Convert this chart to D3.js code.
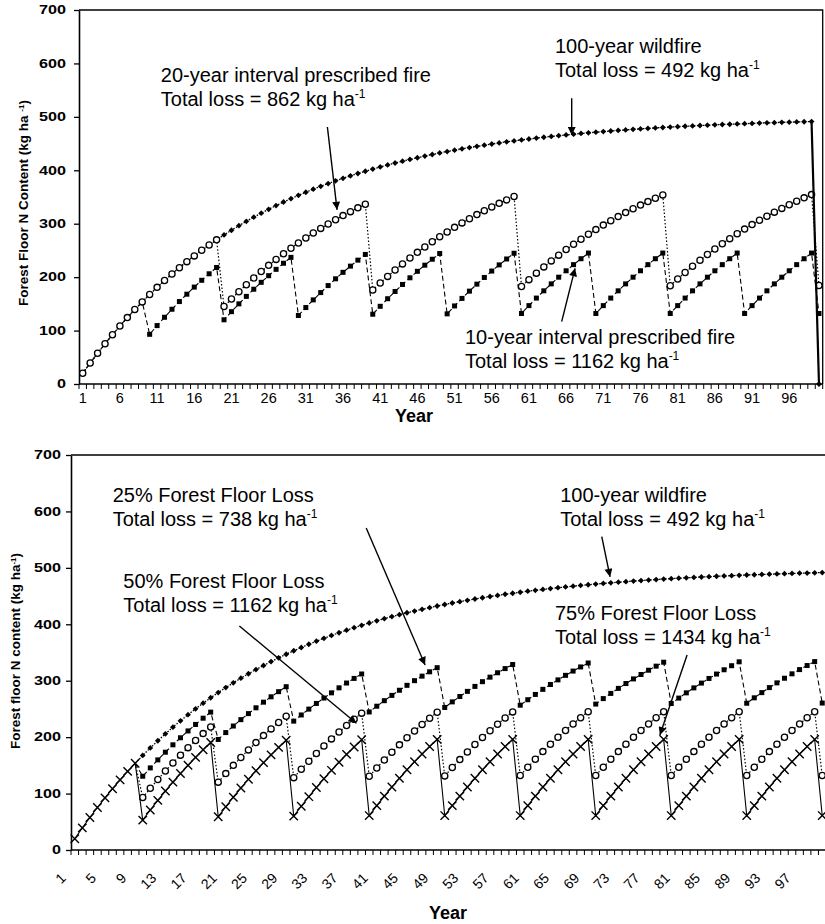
<!DOCTYPE html>
<html lang="en">
<head>
<meta charset="UTF-8">
<title>Forest floor N content under fire regimes</title>
<script src="https://cdn.jsdelivr.net/npm/d3@7"></script>
<style>
  body { margin: 0; background: #fff; }
  svg { display: block; font-family: "Liberation Sans", Arial, sans-serif; }
</style>
</head>
<body>
<script>

// ---- data (kg N / ha) ----
var years = d3.range(1, 101);

// 100-year wildfire, regrowth from bare ground (year 100 value for the lower panel)
var wildfire = [
  20.0, 39.2, 57.6, 75.3, 92.3, 108.6, 124.3, 139.3, 153.7, 167.6,
  180.9, 193.6, 205.9, 217.7, 229.0, 239.8, 250.2, 260.2, 269.8, 279.0,
  287.8, 296.3, 304.5, 312.3, 319.8, 327.0, 333.9, 340.6, 346.9, 353.1,
  358.9, 364.6, 370.0, 375.2, 380.2, 385.0, 389.6, 394.0, 398.2, 402.3,
  406.2, 410.0, 413.6, 417.0, 420.4, 423.5, 426.6, 429.5, 432.4, 435.1,
  437.7, 440.1, 442.5, 444.8, 447.0, 449.2, 451.2, 453.2, 455.0, 456.8,
  458.6, 460.2, 461.8, 463.3, 464.8, 466.2, 467.6, 468.9, 470.1, 471.3,
  472.4, 473.5, 474.6, 475.6, 476.6, 477.5, 478.4, 479.3, 480.1, 480.9,
  481.7, 482.4, 483.1, 483.8, 484.4, 485.1, 485.7, 486.2, 486.8, 487.3,
  487.8, 488.3, 488.8, 489.2, 489.7, 490.1, 490.5, 490.8, 491.2, 491.6
];
// upper panel: the wildfire burns everything in year 100
var wildfireYear100 = 0;

// 20-year interval prescribed fire
var twentyYear = [
  20.0, 39.2, 57.6, 75.3, 92.3, 108.6, 124.3, 139.3, 153.7, 167.6,
  180.9, 193.6, 205.9, 217.7, 229.0, 239.8, 250.2, 260.2, 269.8, 145.0,
  159.2, 172.8, 185.9, 198.5, 210.5, 222.1, 233.2, 243.9, 254.1, 264.0,
  273.4, 282.5, 291.2, 299.5, 307.5, 315.2, 322.6, 329.7, 336.5, 176.0,
  189.0, 201.4, 213.3, 224.8, 235.8, 246.4, 256.5, 266.3, 275.6, 284.6,
  293.2, 301.5, 309.4, 317.1, 324.4, 331.4, 338.1, 344.6, 350.8, 182.6,
  195.3, 207.5, 219.2, 230.4, 241.2, 251.6, 261.5, 271.0, 280.2, 289.0,
  297.4, 305.5, 313.3, 320.8, 327.9, 334.8, 341.4, 347.8, 353.9, 184.0,
  196.6, 208.8, 220.4, 231.6, 242.3, 252.6, 262.5, 272.0, 281.2, 289.9,
  298.3, 306.4, 314.1, 321.6, 328.7, 335.6, 342.1, 348.4, 354.5, 184.3
];

// 10-year interval prescribed fire = 50% forest floor loss
var tenYear = [
  20.0, 39.2, 57.6, 75.3, 92.3, 108.6, 124.3, 139.3, 153.7, 93.0,
  109.3, 124.9, 139.9, 154.3, 168.1, 181.4, 194.1, 206.3, 218.1, 120.2,
  135.4, 150.0, 164.0, 177.4, 190.3, 202.7, 214.6, 226.0, 237.0, 128.2,
  143.1, 157.4, 171.1, 184.2, 196.9, 209.0, 220.6, 231.8, 242.5, 130.6,
  145.4, 159.6, 173.2, 186.3, 198.8, 210.9, 222.4, 233.5, 244.2, 131.3,
  146.1, 160.2, 173.8, 186.9, 199.4, 211.4, 222.9, 234.0, 244.7, 132.0,
  146.7, 160.8, 174.4, 187.4, 199.9, 211.9, 223.4, 234.5, 245.1, 132.0,
  146.7, 160.8, 174.4, 187.4, 199.9, 211.9, 223.4, 234.5, 245.1, 132.0,
  146.7, 160.8, 174.4, 187.4, 199.9, 211.9, 223.4, 234.5, 245.1, 132.0,
  146.7, 160.8, 174.4, 187.4, 199.9, 211.9, 223.4, 234.5, 245.1, 132.0
];

// 25% forest floor loss every 10 years
var loss25 = [
  20.0, 39.2, 57.6, 75.3, 92.3, 108.6, 124.3, 139.3, 153.7, 130.7,
  145.5, 159.7, 173.3, 186.4, 198.9, 211.0, 222.5, 233.6, 244.3, 195.9,
  208.1, 219.7, 231.0, 241.7, 252.0, 262.0, 271.5, 280.6, 289.4, 228.4,
  239.3, 249.7, 259.7, 269.3, 278.5, 287.4, 295.9, 304.1, 311.9, 244.6,
  254.8, 264.6, 274.0, 283.1, 291.8, 300.1, 308.1, 315.8, 323.1, 252.6,
  262.5, 272.0, 281.1, 289.9, 298.3, 306.3, 314.1, 321.5, 328.7, 256.6,
  266.3, 275.7, 284.7, 293.3, 301.5, 309.5, 317.1, 324.4, 331.4, 258.6,
  268.3, 277.5, 286.4, 295.0, 303.2, 311.0, 318.6, 325.8, 332.8, 259.6,
  269.2, 278.5, 287.3, 295.8, 304.0, 311.8, 319.4, 326.6, 333.5, 260.1,
  269.7, 278.9, 287.8, 296.2, 304.4, 312.2, 319.7, 326.9, 333.9, 260.4
];

// 75% forest floor loss every 10 years
var loss75 = [
  20.0, 39.2, 57.6, 75.3, 92.3, 108.6, 124.3, 139.3, 153.7, 53.0,
  70.9, 88.0, 104.5, 120.3, 135.5, 150.1, 164.1, 177.6, 190.5, 59.0,
  76.6, 93.6, 109.8, 125.4, 140.4, 154.8, 168.6, 181.9, 194.6, 60.0,
  77.6, 94.5, 110.7, 126.3, 141.2, 155.6, 169.4, 182.6, 195.3, 61.0,
  78.6, 95.4, 111.6, 127.1, 142.1, 156.4, 170.1, 183.3, 196.0, 61.0,
  78.6, 95.4, 111.6, 127.1, 142.1, 156.4, 170.1, 183.3, 196.0, 61.0,
  78.6, 95.4, 111.6, 127.1, 142.1, 156.4, 170.1, 183.3, 196.0, 61.0,
  78.6, 95.4, 111.6, 127.1, 142.1, 156.4, 170.1, 183.3, 196.0, 61.0,
  78.6, 95.4, 111.6, 127.1, 142.1, 156.4, 170.1, 183.3, 196.0, 61.0,
  78.6, 95.4, 111.6, 127.1, 142.1, 156.4, 170.1, 183.3, 196.0, 61.0
];

var yTicks = [0, 100, 200, 300, 400, 500, 600, 700];
var topXLabels = [1, 6, 11, 16, 21, 26, 31, 36, 41, 46, 51, 56, 61, 66, 71, 76, 81, 86, 91, 96];
var bottomXLabels = [1, 5, 9, 13, 17, 21, 25, 29, 33, 37, 41, 45, 49, 53, 57, 61, 65, 69, 73, 77, 81, 85, 89, 93, 97];
var firstFireYear = 10;

// ---- svg ----
var svg = d3.select("body")
  .append("svg")
    .attr("width", 825)
    .attr("height", 924);

// arrow head
svg.append("defs").append("marker")
    .attr("id", "head")
    .attr("viewBox", "0 0 10 10")
    .attr("refX", 10)
    .attr("refY", 5)
    .attr("markerUnits", "userSpaceOnUse")
    .attr("markerWidth", 10)
    .attr("markerHeight", 8)
    .attr("orient", "auto")
  .append("path")
    .attr("d", "M0,0 L10,5 L0,10 Z")
    .attr("fill", "#000");

function seriesPoints(values) {
  return years.map(function(yr, i) { return { year: yr, v: values[i] }; });
}

var markers = {
  diamond: function(g, pts, x, y) {
    g.selectAll("path.dia").data(pts).enter().append("path")
      .attr("class", "dia")
      .attr("d", "M0,-2.9L2.9,0L0,2.9L-2.9,0Z")
      .attr("transform", function(d) { return "translate(" + x(d.year) + "," + y(d.v) + ")"; })
      .attr("fill", "#000");
  },
  square: function(g, pts, x, y) {
    g.selectAll("rect.sq").data(pts).enter().append("rect")
      .attr("class", "sq")
      .attr("x", function(d) { return x(d.year) - 2.5; })
      .attr("y", function(d) { return y(d.v) - 2.5; })
      .attr("width", 5)
      .attr("height", 5)
      .attr("fill", "#000");
  },
  circle: function(g, pts, x, y) {
    g.selectAll("circle.ci").data(pts).enter().append("circle")
      .attr("class", "ci")
      .attr("cx", function(d) { return x(d.year); })
      .attr("cy", function(d) { return y(d.v); })
      .attr("r", 3.1)
      .attr("fill", "#fff")
      .attr("stroke", "#000")
      .attr("stroke-width", 1.3);
  },
  cross: function(g, pts, x, y) {
    g.selectAll("path.cr").data(pts).enter().append("path")
      .attr("class", "cr")
      .attr("d", "M-4.2,-4.2L4.2,4.2M-4.2,4.2L4.2,-4.2")
      .attr("transform", function(d) { return "translate(" + x(d.year) + "," + y(d.v) + ")"; })
      .attr("fill", "none")
      .attr("stroke", "#000")
      .attr("stroke-width", 1.4);
  }
};

function drawSeries(g, s, x, y) {
  var line = d3.line()
    .x(function(d) { return x(d.year); })
    .y(function(d) { return y(d.v); });
  var lp = s.points.filter(function(d) { return d.year >= s.lineFrom && d.year <= s.lineTo; });
  g.append("path")
    .datum(lp)
    .attr("d", line)
    .attr("fill", "none")
    .attr("stroke", "#000")
    .attr("stroke-width", s.width)
    .attr("stroke-dasharray", s.dash);
  var mp = s.points.filter(function(d) { return d.year >= s.markFrom; });
  markers[s.marker](g.append("g"), mp, x, y);
}

function addNote(g, x, y, note) {
  var t = g.append("text")
    .attr("x", x(note.tx))
    .attr("y", y(note.ty))
    .attr("font-size", 20)
    .attr("fill", "#000");
  t.append("tspan").text(note.line1);
  var l2 = g.append("text")
    .attr("x", x(note.tx))
    .attr("y", y(note.ty) + 24)
    .attr("font-size", 20)
    .attr("fill", "#000");
  l2.append("tspan").text(note.line2);
  l2.append("tspan").attr("font-size", 12).attr("dy", -8).text("-1");
  g.append("line")
    .attr("x1", x(note.from[0])).attr("y1", y(note.from[1]))
    .attr("x2", x(note.to[0])).attr("y2", y(note.to[1]))
    .attr("stroke", "#000")
    .attr("stroke-width", 1.4)
    .attr("marker-end", "url(#head)");
}

function drawPanel(p) {
  var g = svg.append("g");
  // year centres; categories are 1 unit wide
  var x = d3.scaleLinear().domain([0.5, 100.5]).range([p.left, p.right]);
  var y = d3.scaleLinear().domain([0, 700]).range([p.bottom, p.top]);

  // frame
  g.append("path")
    .attr("d", "M" + p.left + "," + p.top + "H" + p.right + "V" + p.bottom)
    .attr("fill", "none")
    .attr("stroke", "#000")
    .attr("stroke-width", 1.3);

  // y axis
  var ya = g.append("g")
    .attr("transform", "translate(" + p.left + ",0)")
    .call(d3.axisLeft(y).tickValues(yTicks).tickSize(5).tickSizeOuter(0));
  ya.select(".domain").attr("stroke-width", 1.6);
  ya.selectAll(".tick line").attr("stroke-width", 1.3);
  ya.selectAll("text")
    .attr("font-family", "'Liberation Sans', Arial, sans-serif")
    .attr("font-size", 12)
    .attr("font-weight", "bold")
    .attr("fill", "#000")
    .attr("x", -p.yLabelGap / 1.35)
    .attr("transform", "scale(1.35,1)");

  // x axis: ticks between categories
  var xa = g.append("g");
  xa.append("line")
    .attr("x1", p.left).attr("x2", p.right)
    .attr("y1", p.bottom).attr("y2", p.bottom)
    .attr("stroke", "#000")
    .attr("stroke-width", 1.6);
  xa.selectAll("line.tk").data(d3.range(0, 101)).enter().append("line")
    .attr("class", "tk")
    .attr("x1", function(d) { return x(d + 0.5); })
    .attr("x2", function(d) { return x(d + 0.5); })
    .attr("y1", p.bottom)
    .attr("y2", p.bottom + 5)
    .attr("stroke", "#000")
    .attr("stroke-width", 1);

  if (p.rotateLabels) {
    xa.selectAll("text.lb").data(p.xLabels).enter().append("text")
      .attr("class", "lb")
      .attr("transform", function(d) { return "translate(" + (x(d) - 8) + "," + (p.bottom + 29) + ") rotate(-45)"; })
      .attr("text-anchor", "end")
      .attr("font-size", 14)
      .attr("fill", "#000")
      .text(function(d) { return d; });
  } else {
    xa.selectAll("text.lb").data(p.xLabels).enter().append("text")
      .attr("class", "lb")
      .attr("x", function(d) { return x(d); })
      .attr("y", p.bottom + 19)
      .attr("text-anchor", "middle")
      .attr("font-size", 14.5)
      .attr("fill", "#000")
      .text(function(d) { return d; });
  }

  // axis titles
  g.append("text")
    .attr("x", p.xTitle[0])
    .attr("y", p.xTitle[1])
    .attr("text-anchor", "middle")
    .attr("font-size", 18)
    .attr("font-weight", "bold")
    .text("Year");

  var yt = g.append("text")
    .attr("transform", "translate(" + p.yTitle[0] + "," + p.yTitle[1] + ") rotate(-90)")
    .attr("text-anchor", "middle")
    .attr("font-size", 13.5)
    .attr("font-weight", "bold");
  yt.append("tspan").text(p.yTitleText);
  yt.append("tspan").attr("font-size", 8).attr("baseline-shift", "super").text("-1");
  yt.append("tspan").text(")");

  p.series.forEach(function(s) { drawSeries(g, s, x, y); });
  if (p.after) p.after(g, x, y);
  p.notes.forEach(function(n) { addNote(g, x, y, n); });
}

// ---- upper panel: prescribed fire interval ----
var wildfireTop = wildfire.slice(0, 99).concat([wildfireYear100]);

drawPanel({
  left: 79, right: 822.7, top: 10, bottom: 384,
  yLabelGap: 13,
  xLabels: topXLabels,
  rotateLabels: false,
  xTitle: [414, 422],
  yTitle: [28, 203],
  yTitleText: "Forest Floor N Content (kg ha ",
  series: [
    { points: seriesPoints(wildfireTop), marker: "diamond", dash: "1.5,1.5", width: 1.3, lineFrom: 1, lineTo: 99, markFrom: 1 },
    { points: seriesPoints(tenYear), marker: "square", dash: "5,3", width: 1.1, lineFrom: 1, lineTo: 100, markFrom: 1 },
    { points: seriesPoints(twentyYear), marker: "circle", dash: "1.5,2", width: 1.2, lineFrom: 1, lineTo: 100, markFrom: 1 }
  ],
  after: function(g, x, y) {
    // the wildfire itself: solid drop to bare ground
    g.append("line")
      .attr("x1", x(99)).attr("y1", y(wildfire[98]))
      .attr("x2", x(100)).attr("y2", y(wildfireYear100))
      .attr("stroke", "#000")
      .attr("stroke-width", 2.2);
  },
  notes: [
    { line1: "20-year interval prescribed fire", line2: "Total loss = 862 kg ha", tx: 11.5, ty: 565, from: [33.9, 481], to: [35.2, 326] },
    { line1: "100-year wildfire", line2: "Total loss = 492 kg ha", tx: 64.5, ty: 619, from: [66.75, 535], to: [66.75, 466] },
    { line1: "10-year interval prescribed fire", line2: "Total loss = 1162 kg ha", tx: 52.4, ty: 74.3, from: [65.4, 116.6], to: [67.2, 216.5] }
  ]
});

// ---- lower panel: fire severity ----
drawPanel({
  left: 71, right: 826, top: 455, bottom: 850,
  yLabelGap: 10,
  xLabels: bottomXLabels,
  rotateLabels: true,
  xTitle: [448, 919],
  yTitle: [20, 651],
  yTitleText: "Forest floor N content (kg ha",
  series: [
    { points: seriesPoints(wildfire), marker: "diamond", dash: "1.5,1.5", width: 1.3, lineFrom: firstFireYear - 1, lineTo: 100, markFrom: firstFireYear },
    { points: seriesPoints(loss25), marker: "square", dash: "5,3", width: 1.1, lineFrom: firstFireYear - 1, lineTo: 100, markFrom: firstFireYear },
    { points: seriesPoints(tenYear), marker: "circle", dash: "1.5,2", width: 1.2, lineFrom: firstFireYear - 1, lineTo: 100, markFrom: firstFireYear },
    { points: seriesPoints(loss75), marker: "cross", dash: null, width: 1.1, lineFrom: 1, lineTo: 100, markFrom: 1 }
  ],
  notes: [
    { line1: "25% Forest Floor Loss", line2: "Total loss = 738 kg ha", tx: 6.02, ty: 617.2, from: [39.6, 570.6], to: [47.4, 327.8] },
    { line1: "50% Forest Floor Loss", line2: "Total loss = 1162 kg ha", tx: 7.43, ty: 463.8, from: [22.8, 397], to: [38.3, 224.5] },
    { line1: "100-year wildfire", line2: "Total loss = 492 kg ha", tx: 65.3, ty: 617.2, from: [70.8, 555.2], to: [71.9, 484.0] },
    { line1: "75% Forest Floor Loss", line2: "Total loss = 1434 kg ha", tx: 64.6, ty: 407.6, from: [82.1, 345.6], to: [78.5, 203.8] }
  ]
});

</script>
</body>
</html>
